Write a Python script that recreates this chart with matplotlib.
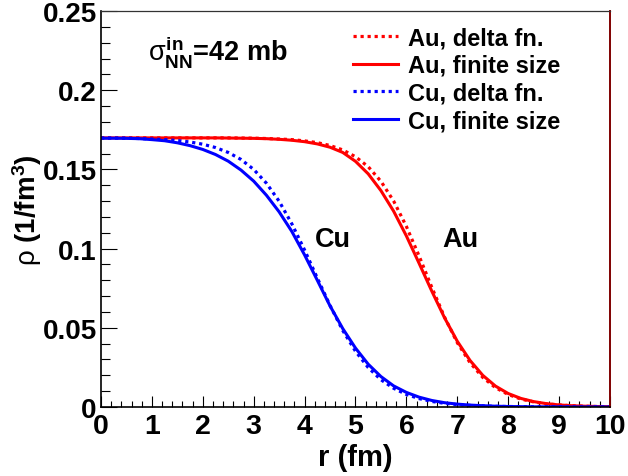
import numpy as np
import matplotlib
matplotlib.use("Agg")
import matplotlib.pyplot as plt
from matplotlib.ticker import MultipleLocator, FuncFormatter

plt.rcParams['font.family'] = ['Liberation Sans', 'DejaVu Sans']
plt.rcParams['mathtext.fontset'] = 'custom'
plt.rcParams['mathtext.rm'] = 'Liberation Sans'
plt.rcParams['mathtext.it'] = 'Liberation Sans'
plt.rcParams['mathtext.bf'] = 'Liberation Sans:bold'

# radius grid (fm)
r_fm = np.linspace(0, 10, 41)

# nuclear densities (1/fm^3)
au_delta = [0.1699, 0.1699, 0.1699, 0.1699, 0.1699, 0.1699, 0.1699, 0.1699, 0.1699, 0.1699,
            0.1699, 0.1698, 0.1697, 0.1695, 0.1692, 0.1688, 0.1680, 0.1669, 0.1651, 0.1623,
            0.1580, 0.1517, 0.1425, 0.1300, 0.1140, 0.0953, 0.0755, 0.0567, 0.0406, 0.0280,
            0.0187, 0.0122, 0.0079, 0.0050, 0.0032, 0.0020, 0.0013, 0.0008, 0.0005, 0.0003,
            0.0002]
au_finite = [0.1699, 0.1699, 0.1699, 0.1699, 0.1699, 0.1699, 0.1699, 0.1699, 0.1699, 0.1699,
             0.1698, 0.1697, 0.1696, 0.1694, 0.1690, 0.1684, 0.1675, 0.1661, 0.1640, 0.1607,
             0.1551, 0.1472, 0.1366, 0.1236, 0.1080, 0.0907, 0.0731, 0.0563, 0.0415, 0.0294,
             0.0200, 0.0132, 0.0085, 0.0054, 0.0034, 0.0021, 0.0013, 0.0008, 0.0005, 0.0003,
             0.0002]
cu_delta = [0.1698, 0.1698, 0.1697, 0.1695, 0.1692, 0.1688, 0.1682, 0.1673, 0.1659, 0.1638,
            0.1607, 0.1563, 0.1500, 0.1413, 0.1299, 0.1156, 0.0991, 0.0814, 0.0641, 0.0483,
            0.0352, 0.0249, 0.0172, 0.0118, 0.0079, 0.0053, 0.0035, 0.0023, 0.0015, 0.0010,
            0.0007, 0.0004, 0.0003, 0.0002, 0.0001, 0.0001, 0.0001, 0.0, 0.0, 0.0,
            0.0]
cu_finite = [0.1697, 0.1697, 0.1696, 0.1694, 0.1688, 0.1681, 0.1668, 0.1650, 0.1626, 0.1594,
             0.1552, 0.1496, 0.1426, 0.1337, 0.1232, 0.1108, 0.0960, 0.0800, 0.0638, 0.0495,
             0.0372, 0.0270, 0.0192, 0.0133, 0.0092, 0.0062, 0.0041, 0.0027, 0.0018, 0.0012,
             0.0008, 0.0005, 0.0003, 0.0002, 0.0001, 0.0001, 0.0001, 0.0, 0.0, 0.0,
             0.0]

series = [
    (au_delta, 'red', ':', 'Au, delta fn.'),
    (au_finite, 'red', '-', 'Au, finite size'),
    (cu_delta, 'blue', ':', 'Cu, delta fn.'),
    (cu_finite, 'blue', '-', 'Cu, finite size'),
]

fig = plt.figure(figsize=(6.28, 4.77), dpi=100)
ax = fig.add_axes([0.1608, 0.1447, 0.8105, 0.8301])

ax.axhline(0, color='#ff9999', lw=0.6, zorder=1)
for vals, col, ls, lab in series:
    if ls == ':':
        ax.plot(r_fm, vals, color=col, lw=2.3, ls=(0, (1, 1.2)), label=lab)
    else:
        ax.plot(r_fm, vals, color=col, lw=2.2, ls='-', label=lab)

ax.set_xlim(0, 10)
ax.set_ylim(0, 0.25)

ax.xaxis.set_major_locator(MultipleLocator(1))
ax.xaxis.set_minor_locator(MultipleLocator(0.2))
ax.yaxis.set_major_locator(MultipleLocator(0.05))
ax.yaxis.set_minor_locator(MultipleLocator(0.01))
ax.yaxis.set_major_formatter(FuncFormatter(lambda v, p: f'{v:g}'))
ax.xaxis.set_major_formatter(FuncFormatter(lambda v, p: f'{v:g}'))

ax.tick_params(axis='x', which='major', direction='in', length=8, width=0.8,
               labelsize=20.5, pad=4, top=False)
ax.tick_params(axis='x', which='minor', direction='in', length=4.3, width=0.8, top=False)
ax.tick_params(axis='y', which='major', direction='in', length=11.5, width=0.8,
               labelsize=20, pad=3, right=False)
ax.tick_params(axis='y', which='minor', direction='in', length=6.5, width=0.8, right=False)
for lab in ax.get_xticklabels() + ax.get_yticklabels():
    lab.set_fontweight('bold')

for s in ['left', 'bottom']:
    ax.spines[s].set_linewidth(1.2)
ax.spines['top'].set_linewidth(0.9)
ax.spines['top'].set_color('#333333')
ax.spines['right'].set_color('#800000')
ax.spines['right'].set_linewidth(1.4)

ax.set_xlabel('r (fm)', fontsize=21, fontweight='bold', labelpad=3)
ax.set_ylabel(r'$\rho$ (1/fm$^{\mathbf{3}}$)', fontsize=20, fontweight='bold')
ax.yaxis.set_label_coords(-0.112, 0.5)

ax.text(0.92, 0.2247, r'$\sigma_{\mathbf{NN}}^{\mathbf{in}}$=42 mb', fontsize=19.5,
        fontweight='bold', ha='left', va='center')
ax.text(4.2, 0.106, 'Cu', fontsize=19.5, fontweight='bold', ha='left', va='center')
ax.text(6.7, 0.106, 'Au', fontsize=19.5, fontweight='bold', ha='left', va='center')

leg = ax.legend(loc='upper left', bbox_to_anchor=(0.495, 0.962), frameon=False,
                fontsize=17, handlelength=1.9, handletextpad=0.42, labelspacing=0.2,
                borderpad=0, borderaxespad=0)
for t in leg.get_texts():
    t.set_fontweight('bold')

fig.savefig('out.png', dpi=100)
